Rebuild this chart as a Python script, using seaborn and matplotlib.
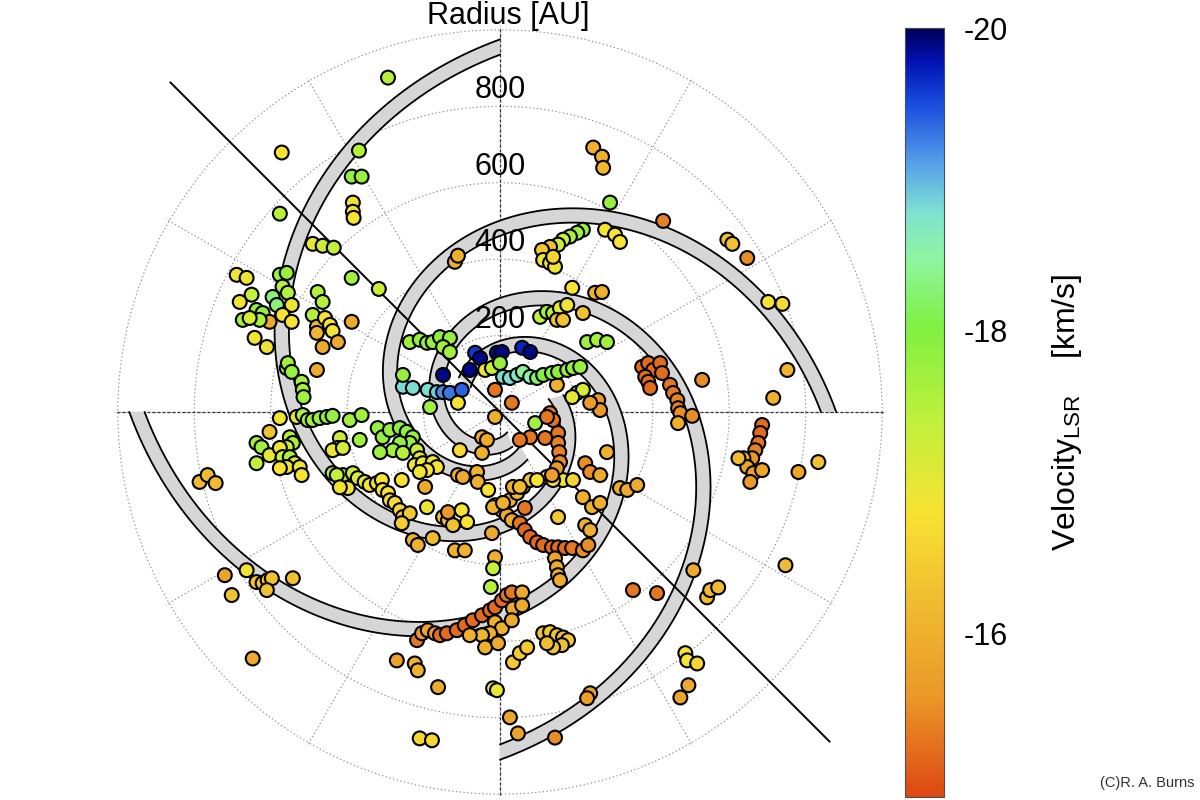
import numpy as np
import pandas as pd
import matplotlib
matplotlib.use("Agg")
import matplotlib.pyplot as plt
import seaborn as sns
from matplotlib.colors import LinearSegmentedColormap, Normalize
from matplotlib.cm import ScalarMappable

sns.set_style("white")
plt.rcParams['font.family'] = ['Liberation Sans', 'DejaVu Sans']
plt.rcParams['mathtext.fontset'] = 'custom'
plt.rcParams['mathtext.rm'] = 'Liberation Sans'
plt.rcParams['axes.unicode_minus'] = False
plt.rcParams['text.color'] = 'black'
plt.rcParams['ytick.color'] = 'black'

# maser spots: (east offset AU, north offset AU, Vlsr km/s)
outer_nw = [(-293, 875, -17.5), (-571, 679, -16.8), (-369, 684, -17.5), (-388, 616, -17.8), (-362, 616, -17.8),
            (-385, 548, -16.9), (-385, 524, -16.9), (-383, 508, -16.8), (-576, 519, -17.5), (-490, 440, -17.0),
            (-464, 435, -17.3), (-435, 430, -17.4), (-388, 351, -17.7), (-317, 322, -17.3), (-477, 314, -17.5),
            (-464, 288, -17.5), (-118, 393, -16.0), (-110, 409, -16.0)]

west_cluster = [(-689, 359, -16.9), (-663, 351, -16.9), (-650, 307, -17.4), (-681, 288, -16.9), (-673, 241, -17.7),
                (-637, 267, -17.8), (-621, 259, -17.8), (-603, 236, -15.9), (-595, 301, -18.3), (-584, 280, -18.3),
                (-576, 359, -17.8), (-558, 364, -17.8), (-569, 328, -17.5), (-555, 312, -17.5), (-545, 280, -16.9),
                (-569, 254, -16.8), (-545, 236, -16.8), (-629, 241, -17.6), (-655, 246, -17.2), (-642, 194, -16.9),
                (-610, 170, -16.9), (-490, 254, -17.5), (-479, 223, -16.2), (-479, 207, -16.1), (-458, 246, -16.8),
                (-445, 228, -16.8), (-438, 212, -16.8), (-464, 170, -15.9), (-424, 183, -15.9), (-388, 236, -15.9),
                (-558, 115, -17.7), (-555, 128, -17.7), (-545, 105, -17.8), (-519, 79, -17.7), (-479, 110, -15.9),
                (-516, 58, -17.7), (-514, 39, -17.7)]

west_band = [(-576, -16, -16.9), (-532, -13, -16.9), (-516, -8, -17.6), (-503, -21, -17.7), (-490, -21, -17.7),
             (-472, -16, -17.8), (-453, -13, -17.8), (-438, -10, -17.8), (-393, -21, -17.7), (-362, -8, -17.7),
             (-320, -42, -17.8), (-603, -52, -16.3), (-637, -81, -17.7), (-624, -92, -17.7), (-603, -113, -17.0),
             (-637, -134, -17.4), (-550, -66, -17.5), (-542, -81, -17.6), (-558, -92, -17.3), (-576, -94, -16.9),
             (-569, -118, -17.4), (-550, -118, -17.6), (-537, -134, -17.0), (-558, -144, -16.9), (-576, -147, -16.8),
             (-524, -144, -16.9), (-519, -165, -16.8), (-419, -68, -17.3), (-424, -94, -16.9), (-438, -100, -16.9),
             (-411, -94, -17.2), (-367, -73, -17.7), (-438, -160, -17.6), (-411, -165, -17.6), (-786, -183, -16.2),
             (-765, -165, -16.2), (-744, -186, -16.2)]

sw_chain = [(-427, -165, -17.4), (-385, -160, -17.3), (-372, -173, -17.2), (-354, -183, -17.0), (-398, -199, -16.9),
            (-341, -191, -16.9), (-322, -186, -16.9), (-309, -178, -16.8), (-307, -204, -16.8), (-293, -212, -16.8),
            (-288, -231, -16.7), (-275, -238, -16.7), (-262, -257, -16.6), (-254, -275, -16.5), (-236, -265, -16.4),
            (-257, -291, -16.5), (-419, -197, -16.9)]

center_green = [(-307, -66, -17.8), (-288, -47, -17.8), (-262, -42, -17.9), (-244, -52, -17.9), (-228, -66, -17.8),
                (-236, -81, -17.8), (-262, -81, -17.8), (-280, -100, -17.7), (-254, -107, -17.5), (-217, -100, -17.3),
                (-210, -121, -17.0), (-223, -139, -16.9), (-202, -134, -16.9), (-176, -131, -16.8), (-165, -144, -16.8),
                (-191, -152, -16.8), (-210, -157, -16.9), (-314, -105, -17.7), (-257, -178, -16.8), (-196, -196, -15.9),
                (-191, -249, -16.9), (-228, -335, -16.0), (-215, -348, -16.0), (-176, -330, -16.2), (-149, -275, -16.2),
                (-136, -283, -16.2), (-123, -296, -16.3), (-136, -262, -15.6), (-118, -362, -16.0), (-92, -362, -16.0),
                (-100, -257, -16.8), (-86, -288, -16.8), (-105, -100, -16.7), (-47, -66, -15.9), (-34, -73, -15.9),
                (-47, -107, -16.0), (-110, -165, -15.9), (-97, -170, -15.9), (-60, -157, -16.0), (-58, -183, -16.0),
                (-31, -204, -16.8), (-21, -317, -15.9), (-13, -380, -16.0), (-18, -409, -17.4), (-24, -458, -17.5)]

sse_loop = [(-13, -244, -16.0), (5, -257, -16.0), (18, -270, -15.9), (31, -283, -15.9), (26, -231, -16.0),
            (45, -212, -16.1), (60, -196, -16.2), (79, -178, -16.3), (-18, -249, -16.0), (8, -238, -16.0),
            (34, -196, -16.0), (123, -170, -16.8), (97, -178, -16.8), (165, -178, -16.9), (139, -178, -16.7),
            (191, -178, -16.6), (52, -196, -16.2), (65, -251, -15.3), (52, -291, -15.3), (65, -309, -15.2),
            (79, -327, -15.2), (97, -341, -15.2), (113, -348, -15.2), (136, -354, -15.2), (152, -354, -15.2),
            (170, -356, -15.2), (189, -356, -15.3), (217, -362, -15.5), (231, -348, -15.5), (144, -383, -15.8),
            (149, -406, -15.9), (152, -427, -15.9), (157, -440, -15.9), (152, -275, -16.4), (223, -296, -16.0),
            (236, -309, -16.0), (217, -223, -16.0), (241, -249, -16.0), (262, -238, -16.0), (314, -199, -15.9),
            (333, -204, -15.9), (359, -191, -15.9), (223, -134, -15.5), (236, -157, -15.5), (262, -165, -15.9),
            (280, -105, -16.0)]

center_red = [(-13, 58, -15.3), (31, 24, -15.3), (-13, -13, -16.0), (92, -29, -17.7), (131, -3, -15.3),
              (139, -21, -15.3), (152, -55, -15.3), (152, -81, -15.4), (155, -105, -15.4), (157, -131, -15.5),
              (149, -147, -15.6), (136, -165, -15.7), (118, -68, -15.3), (79, -66, -15.3), (52, -73, -15.3),
              (123, -13, -15.3), (149, 71, -16.0), (202, 50, -17.4), (217, 58, -17.2), (189, 39, -17.0),
              (257, 31, -15.6), (262, 5, -15.6), (236, 24, -15.6)]

inner_blue = [(-65, 155, -19.6), (-52, 141, -19.9), (-79, 110, -19.9), (-8, 155, -19.9), (5, 157, -19.9),
              (58, 168, -19.7), (79, 157, -19.9), (-149, 97, -19.9), (-39, 110, -16.9), (-21, 115, -17.3),
              (0, 128, -17.8), (-189, 58, -18.8), (-165, 52, -18.9), (-149, 52, -19.2), (-131, 50, -19.3),
              (-100, 58, -19.4), (-254, 66, -18.8), (-228, 63, -18.8), (-254, 97, -17.8), (-183, 13, -17.7),
              (-110, 24, -16.8)]

inner_cyan = [(8, 92, -18.8), (26, 89, -18.8), (45, 97, -18.7), (60, 105, -18.4), (79, 92, -18.5),
              (97, 89, -18.2), (113, 97, -18.0), (136, 102, -17.9), (152, 105, -17.9), (176, 110, -17.8),
              (191, 115, -17.8), (210, 118, -17.8)]

north_green = [(-236, 183, -17.7), (-210, 189, -17.8), (-191, 181, -17.8), (-176, 183, -17.8), (-157, 196, -17.9),
               (-131, 194, -17.8), (-149, 170, -17.7), (-131, 157, -17.7), (228, 183, -17.7), (254, 189, -17.7),
               (280, 183, -17.7), (105, 249, -17.4), (123, 262, -17.7), (139, 259, -17.5), (157, 272, -17.0),
               (176, 280, -16.9), (149, 241, -16.3), (165, 241, -16.3), (217, 259, -16.3), (189, 325, -16.8),
               (249, 312, -16.0), (267, 314, -16.0), (217, 477, -17.8), (202, 469, -17.7), (183, 459, -17.6),
               (165, 451, -17.4), (152, 438, -17.3), (131, 432, -16.3), (110, 424, -16.4), (113, 398, -16.9),
               (131, 390, -16.9), (144, 380, -16.9), (139, 406, -16.6), (275, 477, -16.8), (301, 464, -16.8),
               (314, 445, -16.8), (288, 548, -17.8), (244, 692, -16.0), (267, 668, -16.0), (270, 639, -16.1)]

ne_outer = [(427, 500, -15.4), (595, 451, -16.3), (608, 440, -16.3), (647, 403, -15.5), (702, 288, -16.8),
            (739, 283, -16.7), (752, 110, -16.1), (715, 37, -16.0)]

east_red = [(372, 118, -15.2), (388, 128, -15.2), (401, 110, -15.2), (380, 92, -15.2), (388, 79, -15.2),
            (393, 63, -15.2), (419, 128, -15.2), (424, 102, -15.2), (445, 71, -15.3), (453, 50, -15.3),
            (464, 31, -15.4), (466, 10, -15.4), (472, -3, -15.5), (503, -10, -15.5), (466, -29, -16.0),
            (529, 84, -15.5), (686, -34, -15.2), (681, -55, -15.2), (676, -81, -15.3), (668, -100, -15.4),
            (660, -121, -15.6), (637, -121, -16.0), (647, -144, -15.8), (663, -160, -15.7), (686, -152, -15.8),
            (655, -183, -15.6), (624, -121, -16.2), (781, -157, -15.8), (833, -131, -16.3), (747, -401, -16.2)]

se_outer = [(348, -466, -15.3), (411, -474, -15.3), (506, -414, -15.9), (542, -485, -16.2), (550, -466, -16.2),
            (571, -459, -16.2), (485, -631, -16.8), (490, -650, -16.8), (516, -658, -16.6), (493, -715, -15.9),
            (472, -747, -15.8), (236, -736, -15.7), (228, -749, -15.7), (144, -852, -15.5), (47, -841, -15.8),
            (26, -799, -15.8), (113, -579, -16.3), (131, -576, -16.4), (149, -584, -16.3), (165, -590, -16.3),
            (178, -597, -16.4), (162, -610, -16.3), (139, -616, -16.3), (123, -605, -16.2), (-18, -723, -17.0),
            (-8, -728, -17.0), (34, -655, -16.4), (52, -631, -16.4), (71, -616, -16.4)]

south_chain = [(-217, -597, -15.3), (-204, -579, -15.6), (-189, -571, -15.8), (-170, -579, -15.6), (-157, -584, -15.2),
               (-139, -579, -15.2), (-113, -571, -15.2), (-92, -558, -15.2), (-71, -545, -15.2), (-47, -532, -15.2),
               (-26, -519, -15.2), (-13, -511, -15.2), (5, -493, -15.2), (18, -479, -15.3), (31, -472, -15.3),
               (58, -472, -15.9), (34, -514, -15.9), (58, -506, -15.9), (-13, -550, -16.0), (5, -566, -16.0),
               (-26, -579, -16.0), (-47, -584, -16.1), (-79, -584, -16.0), (-39, -616, -16.0), (-5, -605, -15.9),
               (31, -545, -15.9)]

sw_outer = [(-720, -427, -15.8), (-663, -414, -16.9), (-702, -479, -16.3), (-637, -445, -16.3), (-621, -448, -16.4),
            (-608, -440, -16.3), (-597, -435, -16.3), (-610, -466, -16.3), (-542, -435, -16.3), (-647, -645, -15.9),
            (-270, -650, -15.7), (-223, -658, -16.0), (-215, -676, -16.0), (-162, -720, -15.9), (-210, -854, -16.6),
            (-178, -859, -16.6)]

# spiral arm model: start angle (deg), start radius (AU), winding extent (deg)
arm_start_deg = [90, 180, 270, 0]
arm_start_r = [955, 950, 890, 860]
arm_extent_deg = [285, 320, 380, 300]
arm_pitch = 0.37
arm_width = 40

radial_ticks = [200, 400, 600, 800]
cbar_ticks = [-20, -18, -16]
vmin, vmax = -20.0, -14.92

groups = [outer_nw, west_cluster, west_band, sw_chain, center_green, sse_loop, center_red,
          inner_blue, inner_cyan, north_green, ne_outer, east_red, se_outer, south_chain, sw_outer]
df = pd.DataFrame([p for g in groups for p in g], columns=['east', 'north', 'vlsr'])
df['r'] = np.hypot(df['east'], df['north'])
df['theta'] = np.arctan2(df['north'], df['east'])

cmap = LinearSegmentedColormap.from_list('vel', [
    (0.0, '#00005a'), (0.04, '#0010b0'), (0.10, '#1a4fe0'), (0.18, '#5aa5e8'), (0.24, '#7fe3d0'),
    (0.30, '#8ff5a0'), (0.39, '#80f040'), (0.51, '#c0f03c'), (0.63, '#f8e232'), (0.75, '#f0bb30'),
    (0.87, '#eb9828'), (0.93, '#e57420'), (1.0, '#dd4812')])
norm = Normalize(vmin, vmax)

fig = plt.figure(figsize=(12, 8), dpi=100)
ax = fig.add_axes([0.095, 0.0025, 0.6433, 0.965], projection='polar')
ax.set_ylim(0, 1010)
ax.set_xticks(np.radians(np.arange(0, 360, 30)))
ax.set_yticks([200, 400, 600, 800, 1000])
ax.set_xticklabels([])
ax.set_yticklabels([])
ax.grid(True, color='0.55', linestyle=(0, (1.2, 2.2)), linewidth=0.8)
ax.spines['polar'].set_visible(False)

# main axes lines
for ang in [0, 90, 180, 270]:
    ax.plot([np.radians(ang)] * 2, [0, 1008], color='0.2', lw=0.9, linestyle=(0, (2.5, 1.5)), zorder=1)

# spiral arms
for a0, r0, ext in zip(arm_start_deg, arm_start_r, arm_extent_deg):
    th = np.radians(np.linspace(a0, a0 + ext, 400))
    rm = r0 * np.exp(-arm_pitch * (th - th[0]))
    outer = rm + arm_width / 2
    inner = rm - arm_width / 2
    ax.fill(np.concatenate([th, th[::-1]]), np.concatenate([outer, inner[::-1]]),
            color='#d6d6d6', lw=0, zorder=2)
    ax.plot(th, outer, color='k', lw=1.3, zorder=2.5)
    ax.plot(th, inner, color='k', lw=1.3, zorder=2.5)

# outflow axis
for ang in [135, 315]:
    ax.plot([np.radians(ang)] * 2, [0, 1220], color='k', lw=1.4, zorder=3, clip_on=False)

sns.scatterplot(data=df, x='theta', y='r', hue='vlsr', palette=cmap, hue_norm=norm,
                s=100, edgecolor='k', linewidth=1.5, legend=False, ax=ax, zorder=4)
ax.set_xlabel('')
ax.set_ylabel('')
ax.set_ylim(0, 1010)

for rt in radial_ticks:
    ax.text(np.pi / 2, rt + 42, str(rt), ha='center', va='center', fontsize=22, color='k', zorder=6)
fig.text(508 / 1200, 1 - 24 / 800, 'Radius [AU]', ha='center', va='baseline', fontsize=22, color='k')

cax = fig.add_axes([0.754, 0.00375, 0.0325, 0.961])
cb = fig.colorbar(ScalarMappable(norm=norm, cmap=cmap), cax=cax)
cb.set_ticks(cbar_ticks)
cb.set_ticklabels([str(t) for t in cbar_ticks])
cax.invert_yaxis()
cax.tick_params(direction='in', left=True, right=True, labelleft=False, labelright=True,
                length=6, width=0.8, color='0.3', labelcolor='k', labelsize=22, pad=14)
cb.outline.set_linewidth(0.8)
cb.outline.set_edgecolor('0.3')
fig.text(1067 / 1200, 1 - 412 / 800, r'Velocity$_{\mathrm{LSR}}$    [km/s]', rotation=90,
         ha='center', va='center', fontsize=23, color='k')
fig.text(1195 / 1200, 1 - 783 / 800, '(C)R. A. Burns', ha='right', va='center', fontsize=10.5, color='0.2')

fig.savefig('out.png', dpi=100)
